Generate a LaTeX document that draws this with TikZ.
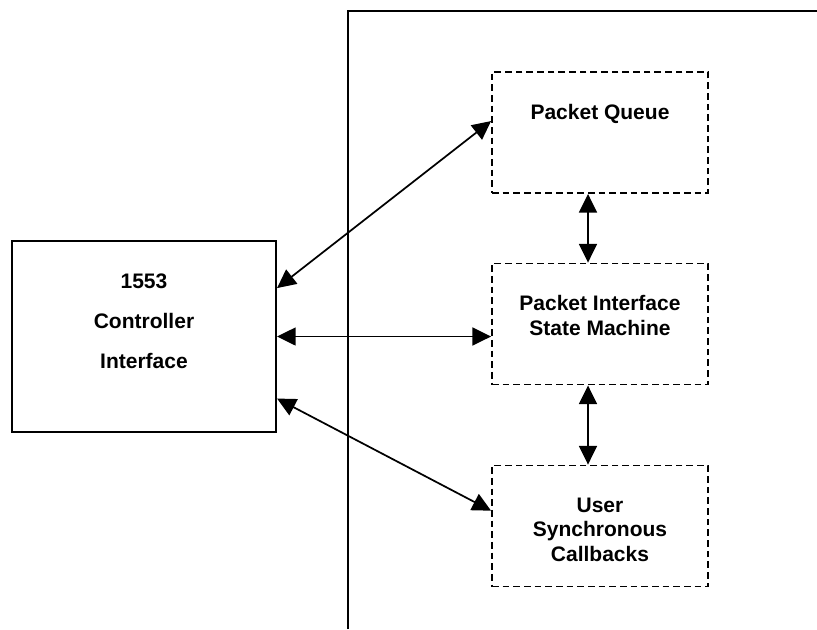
\documentclass[tikz,border=0pt]{standalone}
\usepackage{fontspec}
\setmainfont{Liberation Sans}
\usetikzlibrary{arrows.meta}

\tikzset{
  part/.style={draw, dash pattern=on 5pt off 3pt, line width=1.4pt,
    minimum width=162pt, minimum height=90.75pt, inner sep=0pt},
  ctrlbox/.style={draw, line width=1.6pt, minimum width=198pt,
    minimum height=143.25pt, inner sep=0pt},
  lbl/.style={anchor=base, align=center, inner sep=0pt,
    font=\bfseries\fontsize{15.75}{18.6}\selectfont},
  link/.style={line width=1.3pt,
    {Triangle[length=14pt,width=13.5pt]}-{Triangle[length=14pt,width=13.5pt]}}
}

\begin{document}
\begin{tikzpicture}[x=0.75pt, y=-0.75pt]
\useasboundingbox (0,0) rectangle (817,629);

% Rahmen rechts
\coordinate (divbot) at (348,629);
\coordinate (divtop) at (348,11);
\coordinate (divend) at (817,11);
\draw[line width=1.8pt] (divbot) -- (divtop) -- (divend);

% Controller
\node[ctrlbox] (ctrl) at (144,336.5) {};
\node[lbl, font=\bfseries\fontsize{15.75}{30}\selectfont] (ctrltxt) at (144,368.3)
  {1553\\Controller\\Interface};

% Teile
\node[part] (queue) at (600,132.5) {};
\node[lbl] (queuetxt) at (600,119.3) {Packet Queue};

\node[part] (psm) at (600,324) {};
\node[lbl] (psmtxt) at (600,335.7) {Packet Interface\\State Machine};

\node[part] (cb) at (600,526) {};
\node[lbl] (cbtxt) at (600,561.7) {User\\Synchronous\\Callbacks};

% Verbindungen
\draw[link] (ctrl.20.6) -- (queue.174.4);
\draw[link] (ctrl.east) -- (ctrl.east -| psm.west);
\draw[link] (ctrl.335.4) -- (cb.172.6);

\draw[link] ([xshift=-9pt]queue.south) -- ([xshift=-9pt]psm.north);
\draw[link] ([xshift=-9pt]psm.south) -- ([xshift=-9pt]cb.north);

\end{tikzpicture}
\end{document}
